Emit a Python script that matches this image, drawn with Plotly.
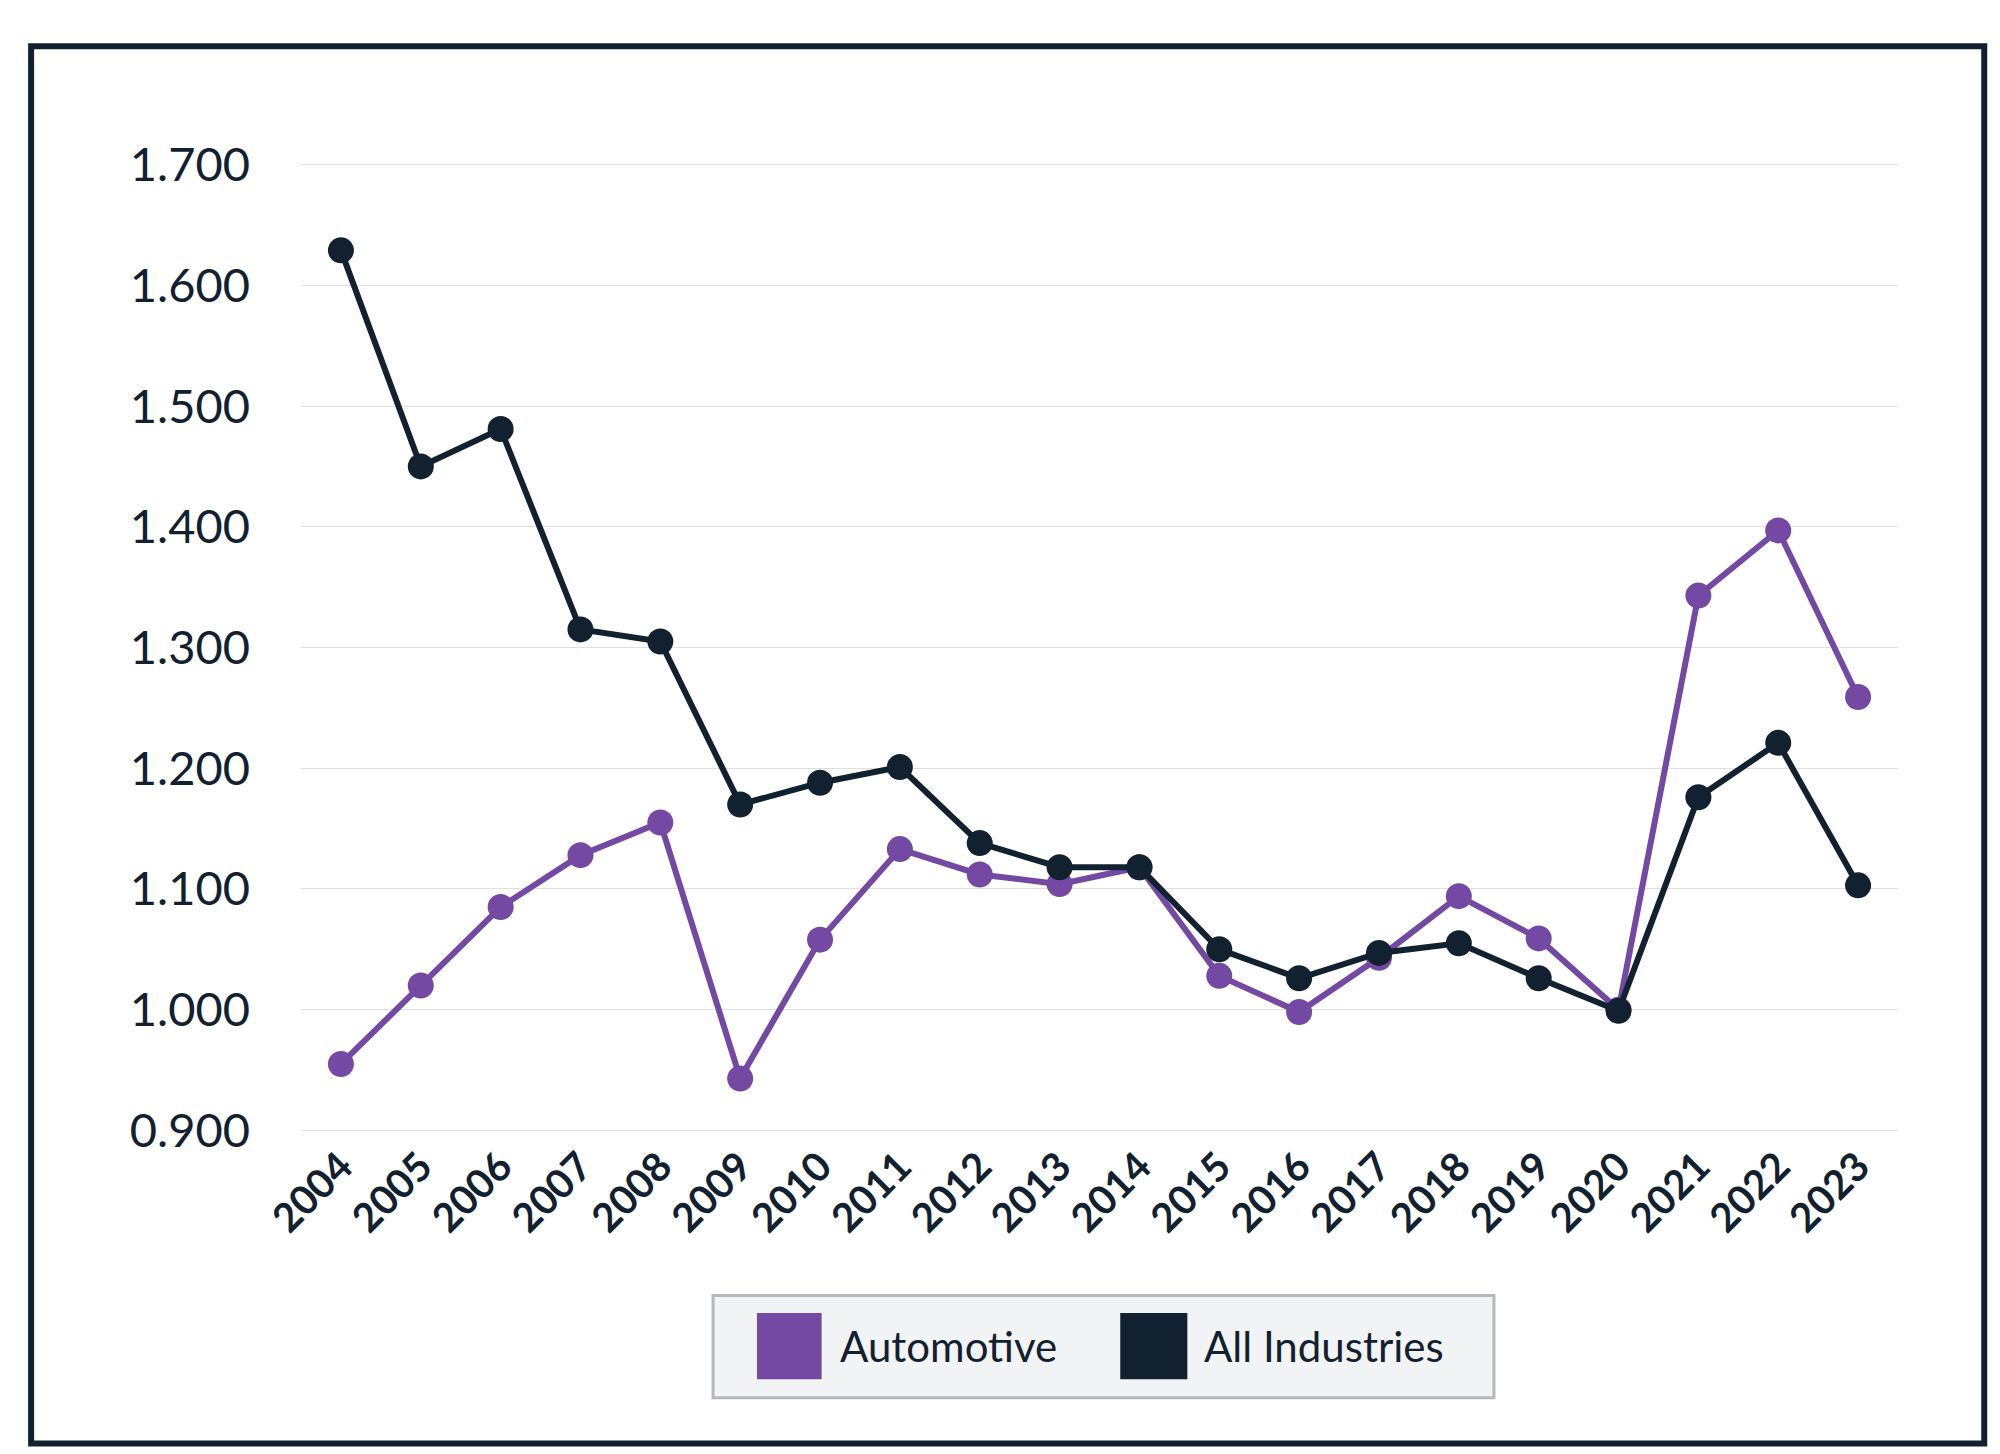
import plotly.graph_objects as go

years = [str(y) for y in range(2004, 2024)]
automotive = [0.955, 1.020, 1.085, 1.128, 1.155, 0.943, 1.058, 1.133, 1.112, 1.104,
              1.118, 1.028, 0.998, 1.043, 1.094, 1.059, 1.000, 1.343, 1.397, 1.259]
all_industries = [1.629, 1.450, 1.481, 1.315, 1.305, 1.170, 1.188, 1.201, 1.138, 1.118,
                  1.118, 1.050, 1.026, 1.047, 1.055, 1.026, 0.999, 1.176, 1.221, 1.103]
y_ticks = [0.9, 1.0, 1.1, 1.2, 1.3, 1.4, 1.5, 1.6, 1.7]

purple = "#7349a3"
dark = "#12212f"
font = "Lato"

fig = go.Figure()
fig.add_trace(go.Scatter(x=years, y=automotive, mode="lines+markers", showlegend=False,
                         line=dict(color=purple, width=6), marker=dict(size=26, color=purple)))
fig.add_trace(go.Scatter(x=years, y=all_industries, mode="lines+markers", showlegend=False,
                         line=dict(color=dark, width=6), marker=dict(size=26, color=dark)))

labels = [(years[0], all_industries[0], "1.629", "#111", 40, 34),
          (years[0], automotive[0], "0.955", purple, -28, 78),
          (years[-1], automotive[-1], "1.259", purple, -46, 18),
          (years[-1], all_industries[-1], "1.103", "#111", -56, 16)]
for x, y, t, c, ys, xs in labels:
    fig.add_annotation(x=x, y=y, text="<b>" + t + "</b>", showarrow=False, yshift=ys, xshift=xs,
                       font=dict(size=40, color=c, family=font))

# outer frame
fig.add_shape(type="rect", xref="paper", yref="paper", x0=-0.169, x1=1.054, y0=-0.318, y1=1.118,
              line=dict(color=dark, width=6), layer="below")

# custom legend with square swatches
fig.add_shape(type="rect", xref="paper", yref="paper", x0=0.258, x1=0.747, y0=-0.271, y1=-0.166,
              line=dict(color="#b5b9bd", width=3), fillcolor="#f2f3f5", layer="below")
for x0, x1, c, name, tx in [(0.2855, 0.326, purple, "Automotive", 0.336),
                            (0.513, 0.555, dark, "All Industries", 0.564)]:
    fig.add_shape(type="rect", xref="paper", yref="paper", x0=x0, x1=x1, y0=-0.252, y1=-0.184,
                  line=dict(width=0), fillcolor=c)
    fig.add_annotation(xref="paper", yref="paper", x=tx, y=-0.218, text=name, showarrow=False,
                       xanchor="left", yanchor="middle", font=dict(size=42, color=dark, family=font))

fig.update_layout(
    width=2000, height=1454,
    margin=dict(l=293, r=110, t=153, b=328),
    paper_bgcolor="white", plot_bgcolor="white",
    font=dict(family=font, color=dark),
    showlegend=False,
    xaxis=dict(tickangle=-45, tickfont=dict(size=40, color=dark, weight="bold"), showgrid=False,
               showline=False, ticks="", range=[-0.5, 19.5]),
    yaxis=dict(range=[0.897, 1.703], tickvals=y_ticks, tickformat=".3f",
               tickfont=dict(size=47, color=dark), gridcolor="#e0e0e0", gridwidth=1,
               zeroline=False, ticks="", ticklabelstandoff=50),
)

fig.write_html("out.html")
